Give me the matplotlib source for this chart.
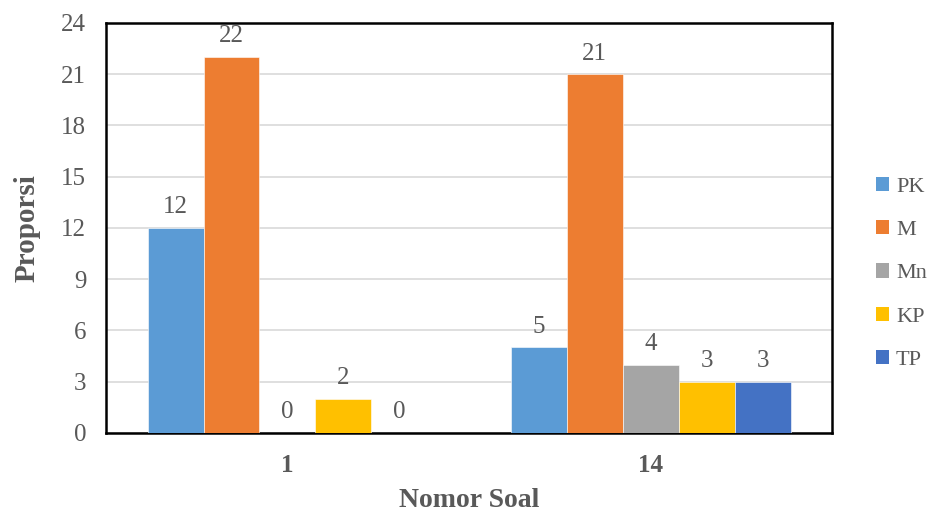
import numpy as np
import matplotlib.pyplot as plt
from matplotlib.patches import Patch

categories = ['1', '14']
series = ['PK', 'M', 'Mn', 'KP', 'TP']
values = {
    'PK': [12, 5],
    'M': [22, 21],
    'Mn': [0, 4],
    'KP': [2, 3],
    'TP': [0, 3],
}
colors = ['#5B9BD5', '#ED7D31', '#A5A5A5', '#FFC000', '#4472C4']

plt.rcParams['font.family'] = ['Liberation Serif', 'DejaVu Serif']
txt = '#595959'

fig = plt.figure(figsize=(9.28, 5.11), dpi=100)
ax = fig.add_axes([0.114, 0.153, 0.783, 0.802])

x = np.arange(len(categories))
w = 0.154
for i, (name, col) in enumerate(zip(series, colors)):
    pos = x + (i - 2) * w
    bars = ax.bar(pos, values[name], width=w, color=col, edgecolor='white',
                  linewidth=0.4, zorder=3)
    for b, v in zip(bars, values[name]):
        ax.annotate(str(v), (b.get_x() + b.get_width() / 2, v),
                    xytext=(0, 7), textcoords='offset points',
                    ha='center', va='bottom', fontsize=18, color=txt)

ax.set_xlim(-0.5, 1.5)
ax.set_ylim(0, 24)
ax.set_yticks(range(0, 25, 3))
ax.set_xticks(x)
ax.set_xticklabels(categories, fontweight='bold')
ax.tick_params(axis='both', length=0, labelsize=18, colors=txt)
ax.tick_params(axis='x', pad=15)
ax.tick_params(axis='y', pad=14)
ax.grid(axis='y', color='#D9D9D9', linewidth=1.2, zorder=0)
for s in ax.spines.values():
    s.set_color('black')
    s.set_linewidth(1.8)

ax.set_xlabel('Nomor Soal', fontsize=20, fontweight='bold', color=txt, labelpad=8)
ax.set_ylabel('Proporsi', fontsize=21, fontweight='bold', color=txt, labelpad=15)

handles = [Patch(facecolor=c, label=n) for n, c in zip(series, colors)]
fig.legend(handles=handles, loc='center left', bbox_to_anchor=(0.944, 0.465),
           frameon=False, fontsize=16, labelcolor=txt, handlelength=0.6,
           handleheight=0.6, handletextpad=0.3, labelspacing=1.05,
           borderaxespad=0, borderpad=0)

fig.savefig('out.png', dpi=100)
